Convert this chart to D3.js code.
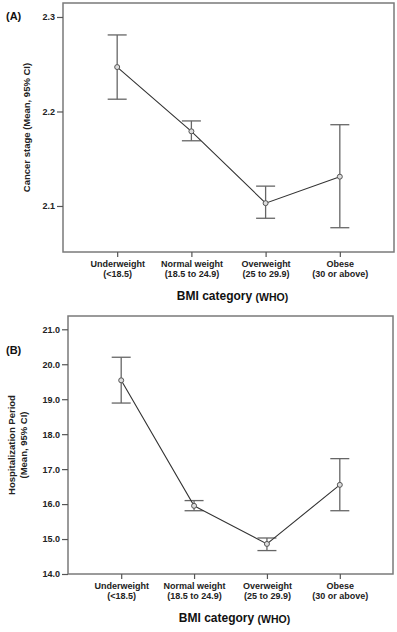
<!DOCTYPE html>
<html>
<head>
<script src="https://d3js.org/d3.v7.min.js"></script>
<style>
  body, html { margin: 0; padding: 0; background: #fff; }
  svg { font-family: "Liberation Sans", Arial, sans-serif; }
  .tick text { font-size: 9px; font-weight: bold; fill: #222; }
  .axisLabel { font-size: 9.5px; font-weight: bold; fill: #222; }
</style>
</head>
<body>
<div id="chart"></div>
<script>
  // categories on x axis
  const categories = ["Underweight", "Normal weight", "Overweight", "Obese"];
  const categoryRanges = ["(<18.5)", "(18.5 to 24.9)", "(25 to 29.9)", "(30 or above)"];

  // (A) cancer stage, mean and 95% CI
  const stageMean = [2.247, 2.179, 2.103, 2.131];
  const stageLow  = [2.213, 2.169, 2.087, 2.077];
  const stageHigh = [2.281, 2.190, 2.121, 2.186];
  const stageTicks = [2.1, 2.2, 2.3];

  // (B) hospitalization period, mean and 95% CI
  const hospMean = [19.54, 15.95, 14.86, 16.55];
  const hospLow  = [18.89, 15.81, 14.67, 15.81];
  const hospHigh = [20.20, 16.10, 15.03, 17.30];
  const hospTicks = [14, 15, 16, 17, 18, 19, 20, 21];

  const width = 397, height = 632;

  const svg = d3.select("#chart").append("svg")
    .attr("width", width)
    .attr("height", height);

  function drawPanel(p) {
    const g = svg.append("g");

    const x = d3.scalePoint()
      .domain(categories)
      .range([p.left, p.right])
      .padding(0.73);

    const y = d3.scaleLinear()
      .domain(p.domain)
      .range([p.bottom, p.top]);

    const rows = categories.map((c, i) => ({
      cat: c, mean: p.mean[i], lo: p.low[i], hi: p.high[i]
    }));

    // frame
    g.append("rect")
      .attr("x", p.left).attr("y", p.top)
      .attr("width", p.right - p.left)
      .attr("height", p.bottom - p.top)
      .attr("fill", "none")
      .attr("stroke", "#7a7a7a")
      .attr("stroke-width", 1.5);

    // y axis
    const yAxis = g.append("g")
      .attr("transform", `translate(${p.left},0)`)
      .call(d3.axisLeft(y).tickValues(p.ticks).tickFormat(d3.format(".1f")).tickSize(6).tickPadding(2));
    yAxis.select(".domain").remove();
    yAxis.selectAll(".tick line").attr("stroke", "#555").attr("stroke-width", 1.2);

    // x axis
    const xAxis = g.append("g")
      .attr("transform", `translate(0,${p.bottom})`)
      .call(d3.axisBottom(x).tickSize(5).tickFormat(""));
    xAxis.select(".domain").remove();
    xAxis.selectAll(".tick line").attr("stroke", "#555").attr("stroke-width", 1.2);
    xAxis.selectAll(".tick").append("text")
      .attr("y", 15).attr("fill", "#222")
      .style("font-size", "9px").style("font-weight", "bold")
      .text(d => d);
    xAxis.selectAll(".tick").append("text")
      .attr("y", 25).attr("fill", "#222")
      .style("font-size", "9px").style("font-weight", "bold")
      .text((d, i) => categoryRanges[i]);

    // error bars
    const bars = g.append("g").attr("stroke", "#666").attr("stroke-width", 1.3);
    bars.selectAll("line.v").data(rows).enter().append("line")
      .attr("class", "v")
      .attr("x1", d => x(d.cat)).attr("x2", d => x(d.cat))
      .attr("y1", d => y(d.lo)).attr("y2", d => y(d.hi));
    bars.selectAll("line.top").data(rows).enter().append("line")
      .attr("class", "top")
      .attr("x1", d => x(d.cat) - 9.5).attr("x2", d => x(d.cat) + 9.5)
      .attr("y1", d => y(d.hi)).attr("y2", d => y(d.hi));
    bars.selectAll("line.bot").data(rows).enter().append("line")
      .attr("class", "bot")
      .attr("x1", d => x(d.cat) - 9.5).attr("x2", d => x(d.cat) + 9.5)
      .attr("y1", d => y(d.lo)).attr("y2", d => y(d.lo));

    // mean line
    g.append("path")
      .datum(rows)
      .attr("fill", "none")
      .attr("stroke", "#333")
      .attr("stroke-width", 1.1)
      .attr("d", d3.line().x(d => x(d.cat)).y(d => y(d.mean)));

    g.selectAll("circle").data(rows).enter().append("circle")
      .attr("cx", d => x(d.cat)).attr("cy", d => y(d.mean))
      .attr("r", 2.5)
      .attr("fill", "#ddd")
      .attr("stroke", "#555")
      .attr("stroke-width", 1);

    // y label
    const cy = (p.top + p.bottom) / 2;
    p.ylabel.forEach((t, i) => {
      g.append("text")
        .attr("class", "axisLabel")
        .attr("transform", `translate(${p.ylabelX[i]},${cy}) rotate(-90)`)
        .attr("text-anchor", "middle")
        .text(t);
    });

    // panel tag
    g.append("text")
      .attr("x", 6).attr("y", p.tagY)
      .style("font-size", "11px").style("font-weight", "bold").attr("fill", "#111")
      .text(p.tag);

    // x title
    const title = g.append("text")
      .attr("x", (p.left + p.right) / 2 + 4)
      .attr("y", p.bottom + 48)
      .attr("text-anchor", "middle")
      .attr("fill", "#111")
      .style("font-weight", "bold");
    title.append("tspan").style("font-size", "12px").text("BMI category ");
    title.append("tspan").style("font-size", "10.5px").attr("dy", 1).text("(WHO)");
  }

  drawPanel({
    left: 63, right: 394, top: 3, bottom: 252,
    domain: [2.0513, 2.3148],
    ticks: stageTicks,
    mean: stageMean, low: stageLow, high: stageHigh,
    ylabel: ["Cancer stage (Mean, 95% CI)"], ylabelX: [30],
    tag: "(A)", tagY: 20
  });

  drawPanel({
    left: 68, right: 393, top: 316, bottom: 574,
    domain: [14, 21.38],
    ticks: hospTicks,
    mean: hospMean, low: hospLow, high: hospHigh,
    ylabel: ["Hospitalization Period", "(Mean, 95% CI)"], ylabelX: [15, 27],
    tag: "(B)", tagY: 354
  });
</script>
</body>
</html>
